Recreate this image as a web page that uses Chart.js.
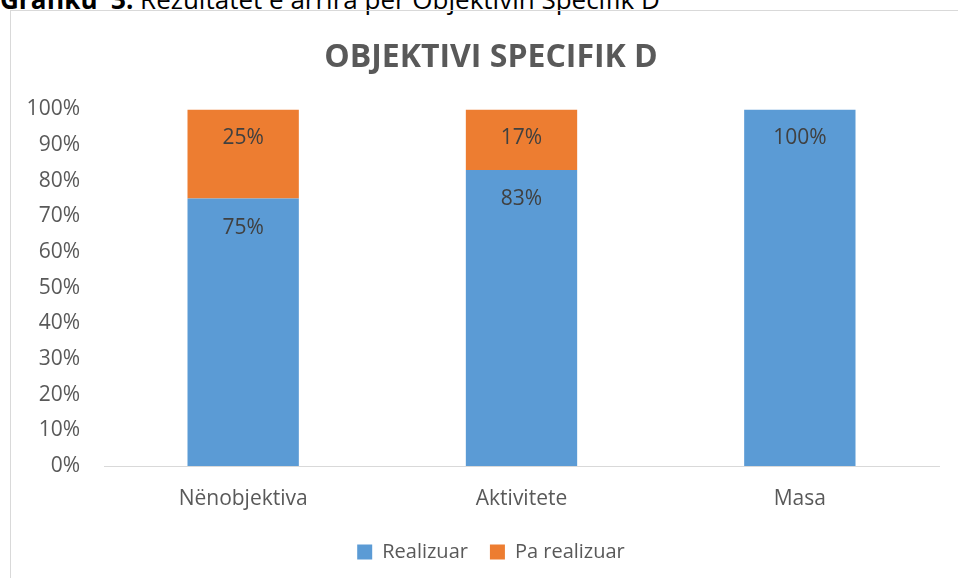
<!DOCTYPE html>
<html>
<head>
<meta charset="utf-8">
<script src="https://cdn.jsdelivr.net/npm/chart.js@4"></script>
<style>
  html, body { margin: 0; padding: 0; background: #fff; overflow: hidden; }
  body { width: 958px; height: 578px; position: relative; font-family: "Open Sans", sans-serif; }
  #caption { position: absolute; left: 0; top: -14px; font-size: 26px; line-height: 26px; color: #000; white-space: nowrap; }
  #caption b { font-weight: bold; }
  #frame { position: absolute; left: 10px; top: 10px; width: 960px; height: 580px; border: 1px solid #d9d9d9; }
  #wrap { position: absolute; left: 11px; top: 11px; width: 960px; height: 561px; }
</style>
</head>
<body>
<div id="caption"><b>Grafiku&nbsp; 3.</b> Rezultatet e arrira për Objektivin Specifik D</div>
<div id="frame"></div>
<div id="wrap"><canvas id="chart"></canvas></div>
<script>
const categories = ['Nënobjektiva', 'Aktivitete', 'Masa'];
const realizuar = [75, 83, 100];
const paRealizuar = [25, 17, 0];
const yTicks = [0, 10, 20, 30, 40, 50, 60, 70, 80, 90, 100];

const FONT = '"Open Sans", sans-serif';

// etiketat brenda shtyllës, afër majës
const insideEndLabels = {
  id: 'insideEndLabels',
  afterDatasetsDraw(chart) {
    const ctx = chart.ctx;
    ctx.save();
    ctx.font = '21px ' + FONT;
    ctx.fillStyle = '#404040';
    ctx.textAlign = 'center';
    ctx.textBaseline = 'middle';
    chart.data.datasets.forEach((ds, i) => {
      chart.getDatasetMeta(i).data.forEach((bar, j) => {
        const v = ds.data[j];
        if (!v) return;
        ctx.fillText(v + '%', bar.x, bar.y + 29);
      });
    });
    ctx.restore();
  }
};

new Chart(document.getElementById('chart'), {
  type: 'bar',
  data: {
    labels: categories,
    datasets: [
      { label: 'Realizuar', data: realizuar, backgroundColor: '#5b9bd5', barPercentage: 0.4, categoryPercentage: 1 },
      { label: 'Pa realizuar', data: paRealizuar, backgroundColor: '#ed7d31', barPercentage: 0.4, categoryPercentage: 1 }
    ]
  },
  options: {
    responsive: true,
    maintainAspectRatio: false,
    animation: false,
    layout: { padding: 0 },
    plugins: {
      title: {
        display: true,
        text: 'OBJEKTIVI SPECIFIK D',
        color: '#595959',
        font: { family: FONT, size: 32, weight: 'bold' },
        padding: { top: 28, bottom: 32 }
      },
      legend: {
        position: 'bottom',
        labels: { color: '#595959', font: { family: FONT, size: 20 }, boxWidth: 15, boxHeight: 15, padding: 22 }
      },
      tooltip: { enabled: false }
    },
    scales: {
      x: {
        stacked: true,
        afterFit(scale) { scale.height = 54; },
        grid: { display: false, drawTicks: false },
        border: { color: '#d9d9d9' },
        ticks: { color: '#595959', font: { family: FONT, size: 21 }, padding: 20 }
      },
      y: {
        stacked: true,
        min: 0,
        max: 100,
        afterBuildTicks(scale) { scale.ticks = yTicks.map(v => ({ value: v })); },
        afterFit(scale) { scale.width = 93; },
        grid: { display: false, drawTicks: false },
        border: { display: false },
        ticks: { color: '#595959', font: { family: FONT, size: 21 }, padding: 24, callback: v => v + '%' }
      },
      // espaç bosh djathtas, që titulli e legjenda të qëndrojnë në qendër të kornizës
      yRight: {
        position: 'right',
        afterFit(scale) { scale.width = 32; },
        grid: { display: false, drawTicks: false },
        border: { display: false },
        ticks: { display: false }
      }
    }
  },
  plugins: [insideEndLabels]
});
</script>
</body>
</html>
